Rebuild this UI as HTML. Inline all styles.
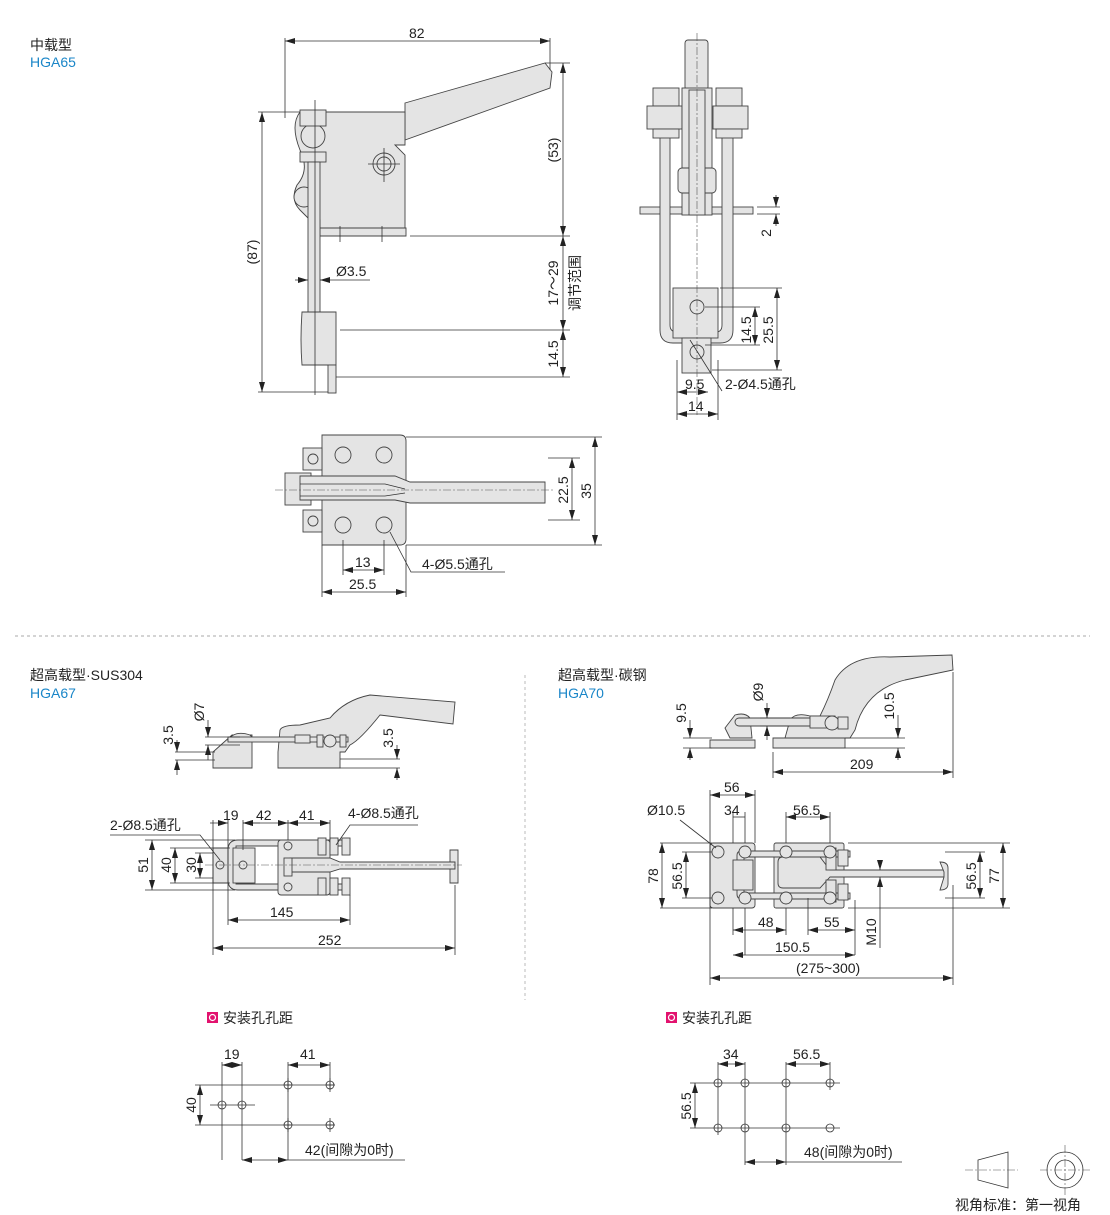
<!DOCTYPE html>
<html><head><meta charset="utf-8"><style>
html,body{margin:0;padding:0;background:#fff;}
svg{display:block;font-family:"Liberation Sans","Noto Sans CJK SC",sans-serif;}
.t{font-size:14px;fill:#222;}
.b{font-size:14px;fill:#1a86c8;}
.d{stroke:#333;stroke-width:0.8;fill:none;}
.g{fill:#e4e4e4;stroke:#444;stroke-width:0.9;}
.c{stroke:#555;stroke-width:0.6;stroke-dasharray:8 2 2 2;fill:none;}
</style></head><body>
<svg width="1110" height="1215" viewBox="0 0 1110 1215" xmlns="http://www.w3.org/2000/svg">
<defs>
<marker id="a" viewBox="0 0 10 6" refX="10" refY="3" markerWidth="10" markerHeight="6" orient="auto-start-reverse" markerUnits="userSpaceOnUse"><path d="M0,0L10,3L0,6z" fill="#222"/></marker>
</defs>

<!-- ===== HGA65 ===== -->
<text x="30" y="50" class="t">中载型</text>
<text x="30" y="67" class="b">HGA65</text>

<!-- side view -->
<path class="g" d="M405,103 L545,63 L552,72 L550,88 L405,140 Z"/>
<path class="g" d="M300,112 L405,112 L405,145 L395,145 L405,155 L405,228 L320,228 L320,220 L310,220 L300,210 Q290,200 297,185 Q310,170 300,150 Q290,125 300,112 Z"/>
<path class="g" d="M320,228 L406,228 L406,236 L320,236 Z"/>
<circle cx="384" cy="164" r="11" class="g"/><circle cx="384" cy="164" r="7" class="g"/>
<circle cx="304" cy="197" r="10" class="g"/>
<circle cx="313" cy="136" r="12" class="g"/>
<rect x="300" y="110" width="26" height="16" class="g"/>
<rect x="300" y="152" width="26" height="10" class="g"/>
<rect x="308" y="162" width="12" height="190" class="g"/>
<path class="g" d="M302,312 L336,312 L336,365 L302,365 Q300,340 302,312Z"/>
<rect x="328" y="365" width="8" height="28" class="g"/>
<path class="d" d="M315,100 V395 M384,148 V182 M368,164 H400 M340,226 V242 M382,226 V242"/>
<!-- dims -->
<line x1="285" y1="41" x2="550" y2="41" class="d" marker-start="url(#a)" marker-end="url(#a)"/>
<text x="409" y="38" class="t">82</text>
<path class="d" d="M285,38 V118 M550,38 V70 M258,112 H300 M258,392 H328 M545,63 H570 M410,236 H570 M340,330 H570 M336,377 H570"/>
<line x1="262" y1="112" x2="262" y2="392" class="d" marker-start="url(#a)" marker-end="url(#a)"/>
<text transform="translate(257,252) rotate(-90)" class="t" text-anchor="middle">(87)</text>
<line x1="563" y1="63" x2="563" y2="236" class="d" marker-start="url(#a)" marker-end="url(#a)"/>
<text transform="translate(558,150) rotate(-90)" class="t" text-anchor="middle">(53)</text>
<line x1="563" y1="236" x2="563" y2="330" class="d" marker-start="url(#a)" marker-end="url(#a)"/>
<text transform="translate(558,283) rotate(-90)" class="t" text-anchor="middle">17～29</text>
<text transform="translate(580,283) rotate(-90)" class="t" text-anchor="middle">调节范围</text>
<line x1="563" y1="330" x2="563" y2="377" class="d" marker-start="url(#a)" marker-end="url(#a)"/>
<text transform="translate(558,354) rotate(-90)" class="t" text-anchor="middle">14.5</text>
<line x1="295" y1="280" x2="308" y2="280" class="d" marker-end="url(#a)"/>
<line x1="370" y1="280" x2="320" y2="280" class="d" marker-end="url(#a)"/>
<text x="336" y="276" class="t">Ø3.5</text>

<!-- front view -->
<rect x="685" y="40" width="23" height="50" rx="3" class="g"/>
<rect x="640" y="207" width="113" height="7" class="g"/>
<path class="g" d="M660,137 H670 V325 Q670,332 677,332 H716 Q722,332 722,325 V137 H733 V330 Q733,343 720,343 H673 Q660,343 660,330 Z"/>
<rect x="653" y="88" width="26" height="18" class="g"/><rect x="647" y="106" width="35" height="23" class="g"/><rect x="653" y="129" width="26" height="9" class="g"/>
<rect x="716" y="88" width="26" height="18" class="g"/><rect x="713" y="106" width="35" height="23" class="g"/><rect x="716" y="129" width="26" height="9" class="g"/>
<rect x="682" y="88" width="30" height="127" class="g"/>
<rect x="678" y="168" width="38" height="25" rx="4" class="g"/>
<rect x="689" y="90" width="16" height="125" class="g"/>
<rect x="673" y="288" width="45" height="50" class="g"/>
<rect x="682" y="338" width="29" height="35" class="g"/>
<circle cx="697" cy="307" r="7" class="g"/><circle cx="697" cy="352" r="7" class="g"/>
<path class="c" d="M697,33 V415"/>
<path class="d" d="M757,207 H780 M757,214 H780 M720,288 H782 M705,307 H760 M705,345 H760 M712,370 H782 M677,360 V420 M718,360 V420"/>
<line x1="776" y1="195" x2="776" y2="207" class="d" marker-end="url(#a)"/>
<line x1="776" y1="226" x2="776" y2="214" class="d" marker-end="url(#a)"/>
<text transform="translate(771,233) rotate(-90)" class="t" text-anchor="middle">2</text>
<line x1="755" y1="307" x2="755" y2="345" class="d" marker-start="url(#a)" marker-end="url(#a)"/>
<text transform="translate(751,330) rotate(-90)" class="t" text-anchor="middle">14.5</text>
<line x1="777" y1="288" x2="777" y2="370" class="d" marker-start="url(#a)" marker-end="url(#a)"/>
<text transform="translate(773,330) rotate(-90)" class="t" text-anchor="middle">25.5</text>
<line x1="677" y1="392" x2="708" y2="392" class="d" marker-start="url(#a)" marker-end="url(#a)"/>
<text x="685" y="389" class="t">9.5</text>
<line x1="677" y1="414" x2="718" y2="414" class="d" marker-start="url(#a)" marker-end="url(#a)"/>
<text x="688" y="411" class="t">14</text>
<path class="d" d="M722,391 L690,340"/>
<text x="725" y="389" class="t">2-Ø4.5通孔</text>

<!-- top view -->
<path class="g" d="M322,435 H400 Q406,435 406,441 V539 Q406,545 400,545 H322 Z"/>
<circle cx="343" cy="455" r="8" class="g"/><circle cx="384" cy="455" r="8" class="g"/>
<circle cx="343" cy="525" r="8" class="g"/><circle cx="384" cy="525" r="8" class="g"/>
<rect x="285" y="473" width="26" height="32" class="g"/>
<path class="g" d="M300,476 H395 L410,482 H545 V503 H410 L395,500 H300 Z"/>
<path class="d" d="M300,484 H385 L405,489 M300,496 H385 L405,493"/>
<rect x="303" y="448" width="19" height="22" class="g"/><circle cx="313" cy="459" r="5" class="g"/>
<rect x="303" y="510" width="19" height="22" class="g"/><circle cx="313" cy="521" r="5" class="g"/>
<path class="c" d="M275,490 H555"/>
<path class="d" d="M548,458 H580 M548,520 H580 M406,437 H602 M406,545 H602 M343,540 V575 M384,540 V575 M322,545 V597 M406,545 V597"/>
<line x1="572" y1="458" x2="572" y2="520" class="d" marker-start="url(#a)" marker-end="url(#a)"/>
<text transform="translate(568,490) rotate(-90)" class="t" text-anchor="middle">22.5</text>
<line x1="595" y1="437" x2="595" y2="545" class="d" marker-start="url(#a)" marker-end="url(#a)"/>
<text transform="translate(591,491) rotate(-90)" class="t" text-anchor="middle">35</text>
<line x1="343" y1="570" x2="384" y2="570" class="d" marker-start="url(#a)" marker-end="url(#a)"/>
<text x="355" y="567" class="t">13</text>
<line x1="322" y1="592" x2="406" y2="592" class="d" marker-start="url(#a)" marker-end="url(#a)"/>
<text x="349" y="589" class="t">25.5</text>
<path class="d" d="M505,572 H411 L390,532"/>
<text x="422" y="569" class="t">4-Ø5.5通孔</text>

<!-- separators -->
<line x1="15" y1="636" x2="1090" y2="636" stroke="#aaa" stroke-width="1" stroke-dasharray="3 3"/>
<line x1="525" y1="675" x2="525" y2="1000" stroke="#bbb" stroke-width="1" stroke-dasharray="3 3"/>

<!-- ===== HGA67 ===== -->
<text x="30" y="680" class="t">超高载型·SUS304</text>
<text x="30" y="698" class="b">HGA67</text>
<!-- side -->
<path class="g" d="M213,752 L232,735 H252 V768 H213 Z"/>
<path class="g" d="M228,740 Q235,730 250,735 L255,740 Z"/>
<path class="g" d="M280,730 Q282,725 300,725 L330,718 Q345,700 370,695 L455,702 L453,724 L380,715 Q360,740 350,745 L345,752 H340 V768 H278 V752 Z"/>
<rect x="228" y="737" width="120" height="5" class="g"/>
<rect x="295" y="735" width="15" height="8" class="g"/>
<circle cx="330" cy="741" r="6" class="g"/>
<rect x="317" y="735" width="6" height="12" class="g"/><rect x="340" y="735" width="6" height="12" class="g"/>
<path class="d" d="M175,752 H215 M175,760 H215 M340,759 H400 M340,768 H400 M205,737 H240 M205,745 H240"/>
<line x1="177" y1="740" x2="177" y2="752" class="d" marker-end="url(#a)"/>
<line x1="177" y1="775" x2="177" y2="760" class="d" marker-end="url(#a)"/>
<text transform="translate(173,735) rotate(-90)" class="t" text-anchor="middle">3.5</text>
<line x1="208" y1="720" x2="208" y2="737" class="d" marker-end="url(#a)"/>
<line x1="208" y1="760" x2="208" y2="745" class="d" marker-end="url(#a)"/>
<text transform="translate(204,712) rotate(-90)" class="t" text-anchor="middle">Ø7</text>
<line x1="397" y1="745" x2="397" y2="759" class="d" marker-end="url(#a)"/>
<line x1="397" y1="780" x2="397" y2="768" class="d" marker-end="url(#a)"/>
<text transform="translate(393,738) rotate(-90)" class="t" text-anchor="middle">3.5</text>
<!-- top -->
<rect x="213" y="848" width="40" height="35" class="g"/>
<path class="g" d="M228,850 Q228,840 238,840 H345 V846 H236 V884 H345 V890 H238 Q228,890 228,880 Z"/>
<rect x="233" y="848" width="22" height="35" class="g"/>
<circle cx="220" cy="865" r="4" class="g"/><circle cx="243" cy="865" r="4" class="g"/>
<rect x="278" y="840" width="52" height="55" rx="3" class="g"/>
<circle cx="288" cy="846" r="4" class="g"/><circle cx="288" cy="887" r="4" class="g"/>
<path class="g" d="M290,858 H330 L340,862 H455 V869 H340 L330,872 H290 Z"/>
<path class="g" d="M450,850 H458 V883 H450 V869 H455 V862 H450 Z"/>
<rect x="284" y="858" width="8" height="18" class="g"/>
<rect x="318" y="838" width="8" height="17" class="g"/><rect x="330" y="838" width="8" height="17" class="g"/><rect x="342" y="838" width="8" height="17" class="g"/>
<rect x="318" y="878" width="8" height="17" class="g"/><rect x="330" y="878" width="8" height="17" class="g"/><rect x="342" y="878" width="8" height="17" class="g"/>
<path class="c" d="M205,865 H462"/>
<path class="d" d="M145,840 H235 M170,848 H230 M195,853 H213 M195,878 H213 M170,883 H230 M145,890 H235 M213,820 V955 M228,820 V925 M243,820 V850 M288,820 V840 M330,820 V840 M350,895 V925 M455,885 V955"/>
<line x1="152" y1="840" x2="152" y2="890" class="d" marker-start="url(#a)" marker-end="url(#a)"/>
<text transform="translate(148,865) rotate(-90)" class="t" text-anchor="middle">51</text>
<line x1="175" y1="848" x2="175" y2="883" class="d" marker-start="url(#a)" marker-end="url(#a)"/>
<text transform="translate(171,865) rotate(-90)" class="t" text-anchor="middle">40</text>
<line x1="200" y1="853" x2="200" y2="878" class="d" marker-start="url(#a)" marker-end="url(#a)"/>
<text transform="translate(196,865) rotate(-90)" class="t" text-anchor="middle">30</text>
<line x1="210" y1="823" x2="228" y2="823" class="d" marker-end="url(#a)"/>
<line x1="260" y1="823" x2="243" y2="823" class="d" marker-end="url(#a)"/>
<text x="223" y="820" class="t">19</text>
<line x1="243" y1="823" x2="288" y2="823" class="d" marker-start="url(#a)" marker-end="url(#a)"/>
<text x="256" y="820" class="t">42</text>
<line x1="288" y1="823" x2="330" y2="823" class="d" marker-start="url(#a)" marker-end="url(#a)"/>
<text x="299" y="820" class="t">41</text>
<text x="110" y="830" class="t">2-Ø8.5通孔</text>
<path class="d" d="M110,835 H200 L220,860"/>
<text x="348" y="818" class="t">4-Ø8.5通孔</text>
<path class="d" d="M418,825 H350 L336,845"/>
<line x1="228" y1="920" x2="350" y2="920" class="d" marker-start="url(#a)" marker-end="url(#a)"/>
<text x="270" y="917" class="t">145</text>
<line x1="213" y1="948" x2="455" y2="948" class="d" marker-start="url(#a)" marker-end="url(#a)"/>
<text x="318" y="945" class="t">252</text>
<!-- holes HGA67 -->
<rect x="207" y="1012" width="11" height="11" fill="#e2126e"/><circle cx="212.5" cy="1017.5" r="3" fill="none" stroke="#fff" stroke-width="1.2"/>
<text x="223" y="1023" class="t">安装孔孔距</text>
<g class="d">
<path d="M222,1062 V1160 M242,1062 V1160 M288,1062 V1160 M330,1062 V1090 M195,1085 H335 M195,1125 H335 M210,1105 H255"/>
<circle cx="222" cy="1105" r="4"/><circle cx="242" cy="1105" r="4"/><circle cx="288" cy="1085" r="4"/><circle cx="330" cy="1085" r="4"/><circle cx="288" cy="1125" r="4"/><circle cx="330" cy="1125" r="4"/>
<path d="M284,1085 H292 M326,1085 H334 M284,1125 H292 M326,1125 H334 M288,1078 V1092 M330,1078 V1092 M288,1118 V1132 M330,1118 V1132"/>
</g>
<line x1="222" y1="1065" x2="242" y2="1065" class="d" marker-start="url(#a)" marker-end="url(#a)"/>
<text x="224" y="1059" class="t">19</text>
<line x1="288" y1="1065" x2="330" y2="1065" class="d" marker-start="url(#a)" marker-end="url(#a)"/>
<text x="300" y="1059" class="t">41</text>
<line x1="200" y1="1085" x2="200" y2="1125" class="d" marker-start="url(#a)" marker-end="url(#a)"/>
<text transform="translate(196,1105) rotate(-90)" class="t" text-anchor="middle">40</text>
<line x1="242" y1="1160" x2="288" y2="1160" class="d" marker-start="url(#a)" marker-end="url(#a)"/>
<path class="d" d="M288,1160 H405"/>
<text x="305" y="1155" class="t">42(间隙为0时)</text>

<!-- ===== HGA70 ===== -->
<text x="558" y="680" class="t">超高载型·碳钢</text>
<text x="558" y="698" class="b">HGA70</text>
<!-- side -->
<path class="g" d="M710,740 H755 V748 H710 Z"/>
<path class="g" d="M725,728 L735,715 Q745,712 750,718 L752,738 H730 Z"/>
<path class="g" d="M773,738 H845 V748 H773 Z"/>
<path class="g" d="M785,738 L790,720 Q795,712 810,716 L820,716 Q828,700 835,680 Q850,655 890,657 L952,655 L953,670 L905,680 Q865,690 855,730 L850,738 Z"/>
<rect x="735" y="718" width="95" height="8" rx="4" class="g"/>
<rect x="810" y="716" width="25" height="12" class="g"/>
<circle cx="832" cy="723" r="7" class="g"/>
<rect x="838" y="717" width="10" height="12" class="g"/>
<path class="d" d="M683,738 H712 M683,748 H712 M845,738 H905 M845,748 H905 M760,718 H790 M760,726 H790 M773,752 V778 M953,672 V778"/>
<line x1="690" y1="720" x2="690" y2="738" class="d" marker-end="url(#a)"/>
<line x1="690" y1="760" x2="690" y2="748" class="d" marker-end="url(#a)"/>
<text transform="translate(686,713) rotate(-90)" class="t" text-anchor="middle">9.5</text>
<line x1="767" y1="703" x2="767" y2="718" class="d" marker-end="url(#a)"/>
<line x1="767" y1="740" x2="767" y2="726" class="d" marker-end="url(#a)"/>
<text transform="translate(763,692) rotate(-90)" class="t" text-anchor="middle">Ø9</text>
<line x1="898" y1="715" x2="898" y2="738" class="d" marker-end="url(#a)"/>
<line x1="898" y1="760" x2="898" y2="748" class="d" marker-end="url(#a)"/>
<text transform="translate(894,706) rotate(-90)" class="t" text-anchor="middle">10.5</text>
<line x1="773" y1="772" x2="953" y2="772" class="d" marker-start="url(#a)" marker-end="url(#a)"/>
<text x="850" y="769" class="t">209</text>
<!-- top -->
<rect x="710" y="843" width="45" height="65" rx="3" class="g"/>
<rect x="774" y="843" width="70" height="65" rx="2" class="g"/>
<path class="g" d="M737,855 Q737,851 742,851 H850 V857 H744 V893 H850 V899 H742 Q737,899 737,894 Z"/>
<rect x="733" y="860" width="20" height="30" class="g"/>
<path class="g" d="M778,862 Q778,857 783,857 H820 L830,870 H945 V877 H830 L820,888 H783 Q778,888 778,883 Z"/>
<path class="g" d="M940,862 Q948,862 948,868 V884 Q948,890 940,890 L944,877 V872 Z"/>
<rect x="826" y="848" width="10" height="22" class="g"/><rect x="838" y="850" width="10" height="16" class="g"/>
<rect x="826" y="880" width="10" height="22" class="g"/><rect x="838" y="884" width="10" height="16" class="g"/>
<g class="g"><circle cx="718" cy="852" r="6"/><circle cx="745" cy="852" r="6"/><circle cx="718" cy="898" r="6"/><circle cx="745" cy="898" r="6"/><circle cx="786" cy="852" r="6"/><circle cx="830" cy="852" r="6"/><circle cx="786" cy="898" r="6"/><circle cx="830" cy="898" r="6"/></g>
<path class="d" d="M660,843 H712 M682,852 H712 M682,898 H712 M660,908 H712 M848,843 H1010 M945,852 H985 M945,898 H985 M848,908 H1010 M710,790 V985 M755,790 V843 M733,812 V843 M745,812 V843 M786,812 V843 M830,812 V843 M733,908 V935 M786,908 V935 M808,898 V935 M855,900 V955 M953,885 V985 M745,908 V955"/>
<line x1="710" y1="795" x2="755" y2="795" class="d" marker-start="url(#a)" marker-end="url(#a)"/>
<text x="724" y="792" class="t">56</text>
<line x1="733" y1="817" x2="745" y2="817" class="d"/>
<text x="724" y="815" class="t">34</text>
<line x1="786" y1="817" x2="830" y2="817" class="d" marker-start="url(#a)" marker-end="url(#a)"/>
<text x="793" y="815" class="t">56.5</text>
<text x="647" y="815" class="t">Ø10.5</text>
<path class="d" d="M680,820 L716,848"/>
<line x1="662" y1="843" x2="662" y2="908" class="d" marker-start="url(#a)" marker-end="url(#a)"/>
<text transform="translate(658,876) rotate(-90)" class="t" text-anchor="middle">78</text>
<line x1="686" y1="852" x2="686" y2="898" class="d" marker-start="url(#a)" marker-end="url(#a)"/>
<text transform="translate(682,876) rotate(-90)" class="t" text-anchor="middle">56.5</text>
<line x1="980" y1="852" x2="980" y2="898" class="d" marker-start="url(#a)" marker-end="url(#a)"/>
<text transform="translate(976,876) rotate(-90)" class="t" text-anchor="middle">56.5</text>
<line x1="1003" y1="843" x2="1003" y2="908" class="d" marker-start="url(#a)" marker-end="url(#a)"/>
<text transform="translate(999,876) rotate(-90)" class="t" text-anchor="middle">77</text>
<line x1="733" y1="930" x2="786" y2="930" class="d" marker-start="url(#a)" marker-end="url(#a)"/>
<text x="758" y="927" class="t">48</text>
<line x1="808" y1="930" x2="855" y2="930" class="d" marker-start="url(#a)" marker-end="url(#a)"/>
<text x="824" y="927" class="t">55</text>
<line x1="880" y1="862" x2="880" y2="870" class="d" marker-end="url(#a)"/>
<line x1="880" y1="890" x2="880" y2="877" class="d" marker-end="url(#a)"/>
<path class="d" d="M880,890 V948"/>
<text transform="translate(876,932) rotate(-90)" class="t" text-anchor="middle">M10</text>
<line x1="733" y1="955" x2="855" y2="955" class="d" marker-start="url(#a)" marker-end="url(#a)"/>
<text x="775" y="952" class="t">150.5</text>
<line x1="710" y1="978" x2="953" y2="978" class="d" marker-start="url(#a)" marker-end="url(#a)"/>
<text x="796" y="973" class="t">(275~300)</text>
<!-- holes HGA70 -->
<rect x="666" y="1012" width="11" height="11" fill="#e2126e"/><circle cx="671.5" cy="1017.5" r="3" fill="none" stroke="#fff" stroke-width="1.2"/>
<text x="682" y="1023" class="t">安装孔孔距</text>
<g class="d">
<path d="M718,1062 V1135 M745,1062 V1165 M786,1062 V1165 M830,1062 V1090 M690,1083 H840 M690,1128 H840"/>
<circle cx="718" cy="1083" r="4"/><circle cx="745" cy="1083" r="4"/><circle cx="786" cy="1083" r="4"/><circle cx="830" cy="1083" r="4"/>
<circle cx="718" cy="1128" r="4"/><circle cx="745" cy="1128" r="4"/><circle cx="786" cy="1128" r="4"/><circle cx="830" cy="1128" r="4"/>
</g>
<line x1="718" y1="1064" x2="745" y2="1064" class="d" marker-start="url(#a)" marker-end="url(#a)"/>
<text x="723" y="1059" class="t">34</text>
<line x1="786" y1="1064" x2="830" y2="1064" class="d" marker-start="url(#a)" marker-end="url(#a)"/>
<text x="793" y="1059" class="t">56.5</text>
<line x1="695" y1="1083" x2="695" y2="1128" class="d" marker-start="url(#a)" marker-end="url(#a)"/>
<text transform="translate(691,1106) rotate(-90)" class="t" text-anchor="middle">56.5</text>
<line x1="745" y1="1162" x2="786" y2="1162" class="d" marker-start="url(#a)" marker-end="url(#a)"/>
<path class="d" d="M786,1162 H902"/>
<text x="804" y="1157" class="t">48(间隙为0时)</text>

<!-- view symbol -->
<path class="d" d="M978,1160 L1008,1152 V1188 L978,1180 Z" stroke-width="1"/>
<path class="c" d="M965,1170 H1018"/>
<circle cx="1065" cy="1170" r="18" class="d" stroke-width="1"/>
<circle cx="1065" cy="1170" r="10" class="d" stroke-width="1"/>
<path class="c" d="M1040,1170 H1090 M1065,1145 V1195"/>
<text x="955" y="1210" class="t">视角标准：第一视角</text>
</svg>
</body></html>
